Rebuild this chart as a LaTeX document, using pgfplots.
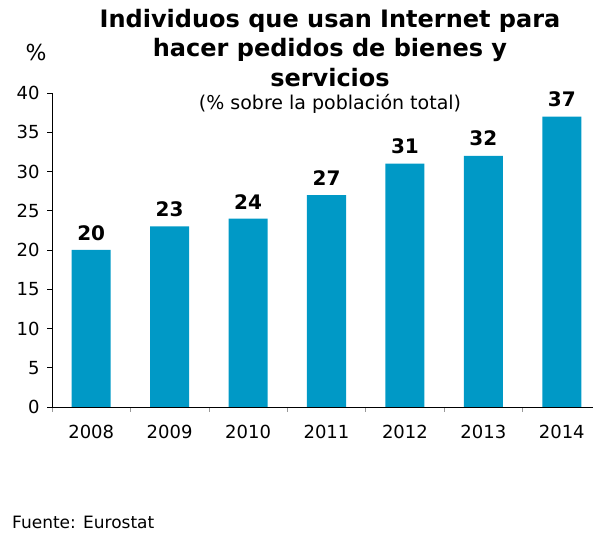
\documentclass[border=0pt]{standalone}
\usepackage{pgfplots}
\pgfplotsset{compat=1.18}
\usepackage{fontspec}
\setmainfont{DejaVu Sans}
\definecolor{barblue}{RGB}{0,153,198}
\begin{document}
\begin{tikzpicture}[x=1bp,y=1bp]
\useasboundingbox (0,0) rectangle (593bp,533bp);
\begin{axis}[
  at={(52bp,126bp)}, anchor=south west,
  scale only axis, width=549bp, height=314bp,
  xmin=-0.5, xmax=6.5, ymin=0, ymax=40,
  axis lines=left, axis line style={-, black, line width=0.8pt},
  ybar, bar width=39bp,
  xtick={0,...,6}, xticklabels={2008,2009,2010,2011,2012,2013,2014},
  major x tick style={draw=none},
  minor xtick={-0.5,0.5,...,6.5},
  minor x tick style={black!40, line width=0.6pt},
  ytick={0,5,...,40},
  y tick style={black, line width=0.6pt},
  tick align=outside,
  major tick length=5bp, minor tick length=5bp,
  ticklabel style={font=\fontsize{18bp}{20bp}\selectfont},
  xticklabel style={yshift=-10bp},
  yticklabel style={xshift=-4bp},
  /pgf/number format/assume math mode=true,
  nodes near coords,
  nodes near coords style={font=\bfseries\fontsize{20bp}{22bp}\selectfont, yshift=6bp},
  clip=false,
]
\addplot[fill=barblue, draw=none] coordinates {(0,20) (1,23) (2,24) (3,27) (4,31) (5,32) (6,37)};
\end{axis}
\node[font=\bfseries\fontsize{24bp}{29.5bp}\selectfont, align=center, anchor=north, inner sep=0] at (330bp,524bp) {Individuos que usan Internet para\\hacer pedidos de bienes y\\servicios};
\node[font=\fontsize{19bp}{21bp}\selectfont, anchor=center, inner sep=0] at (330bp,429bp) {(\% sobre la población total)};
\node[font=\fontsize{22bp}{24bp}\selectfont, anchor=center, inner sep=0] at (36bp,481bp) {\%};
\node[font=\fontsize{17bp}{19bp}\selectfont, anchor=west, inner sep=0] at (12bp,11bp) {Fuente: Eurostat};
\end{tikzpicture}
\end{document}
